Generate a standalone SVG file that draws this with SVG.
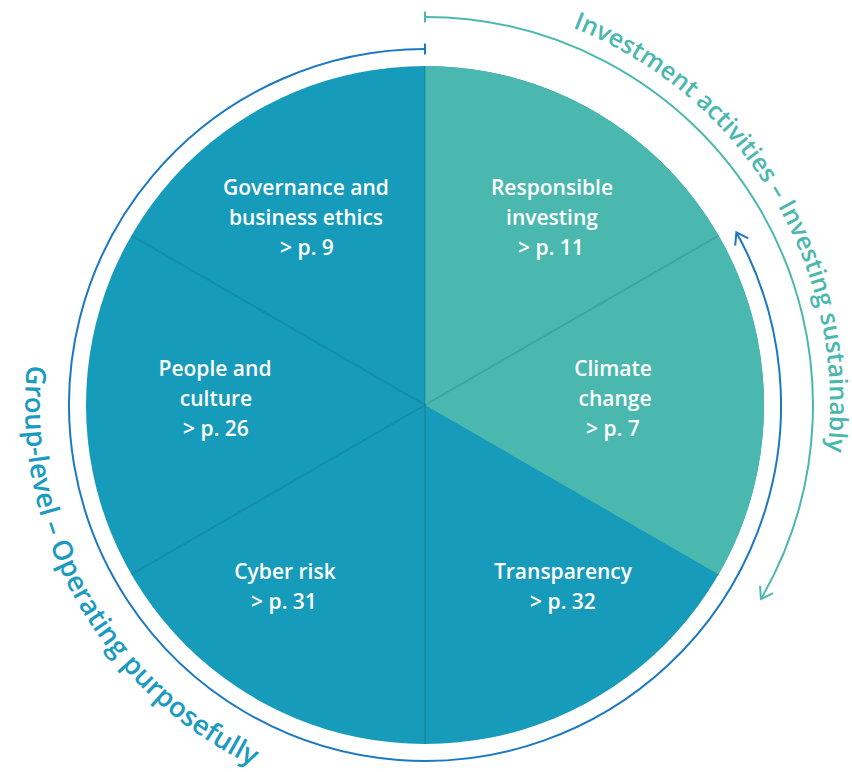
<svg xmlns="http://www.w3.org/2000/svg" width="852" height="772" viewBox="0 0 852 772">
  <style>
    .label { font-family: "Open Sans", "Liberation Sans", sans-serif; font-weight: 600; font-size: 21px; fill: #ffffff; text-anchor: middle; }
    .divider { stroke: #0a4f66; stroke-opacity: 0.18; stroke-width: 2; fill: none; }
    .ring-label { font-family: "Open Sans", "Liberation Sans", sans-serif; font-weight: 600; }
  </style>
  <defs>
    <marker id="tick-blue" markerUnits="userSpaceOnUse" markerWidth="4" markerHeight="14" viewBox="-2 -7 4 14" refX="0" refY="0" orient="auto">
      <path d="M0 -5.5 L0 5.5" stroke="#1b78c2" stroke-width="2" fill="none"/>
    </marker>
    <marker id="tick-teal" markerUnits="userSpaceOnUse" markerWidth="4" markerHeight="14" viewBox="-2 -7 4 14" refX="0" refY="0" orient="auto">
      <path d="M0 -5.5 L0 5.5" stroke="#4bb8b0" stroke-width="2" fill="none"/>
    </marker>
    <marker id="arrow-blue" markerUnits="userSpaceOnUse" markerWidth="18" markerHeight="18" viewBox="-14 -9 18 18" refX="0" refY="0" orient="auto">
      <path d="M-11 -7.5 L0 0 L-11 7.5" stroke="#1b78c2" stroke-width="2" fill="none"/>
    </marker>
    <marker id="arrow-teal" markerUnits="userSpaceOnUse" markerWidth="18" markerHeight="18" viewBox="-14 -9 18 18" refX="0" refY="0" orient="auto">
      <path d="M-11 -7.5 L0 0 L-11 7.5" stroke="#4bb8b0" stroke-width="2" fill="none"/>
    </marker>
    <!-- baseline circles for the curved captions -->
    <path id="ring-outer-cw" d="M425 0 A405 405 0 1 1 425 810 A405 405 0 0 1 425 0"/>
    <path id="ring-left-ccw" d="M425 5 A400 400 0 1 0 425 805 A400 400 0 0 0 425 5"/>
  </defs>

  <!-- pie -->
  <g id="pie">
    <circle cx="425" cy="405" r="339" fill="#169bbb"/>
    <path d="M425 405 L425 66 A339 339 0 0 1 718.6 574.5 Z" fill="#4bb8b0"/>
  </g>

  <g id="dividers">
    <line class="divider" x1="425" y1="405" x2="425" y2="66"/>
    <line class="divider" x1="425" y1="405" x2="425" y2="744"/>
    <line class="divider" x1="425" y1="405" x2="718.6" y2="235.5"/>
    <line class="divider" x1="425" y1="405" x2="131.4" y2="235.5"/>
    <line class="divider" x1="425" y1="405" x2="131.4" y2="574.5"/>
  </g>

  <g id="governance">
    <text class="label" x="306" y="195">Governance and</text>
    <text class="label" x="306" y="225">business ethics</text>
    <text class="label" x="307" y="255">&gt; p. 9</text>
  </g>
  <g id="responsible-investing">
    <text class="label" x="552" y="195">Responsible</text>
    <text class="label" x="552" y="225">investing</text>
    <text class="label" x="551" y="255">&gt; p. 11</text>
  </g>
  <g id="people-culture">
    <text class="label" x="215" y="376">People and</text>
    <text class="label" x="216" y="406">culture</text>
    <text class="label" x="216" y="436">&gt; p. 26</text>
  </g>
  <g id="climate-change">
    <text class="label" x="613" y="376">Climate</text>
    <text class="label" x="615" y="406">change</text>
    <text class="label" x="613" y="436">&gt; p. 7</text>
  </g>
  <g id="cyber-risk">
    <text class="label" x="285" y="579">Cyber risk</text>
    <text class="label" x="284" y="609">&gt; p. 31</text>
  </g>
  <g id="transparency">
    <text class="label" x="563" y="579">Transparency</text>
    <text class="label" x="563" y="609">&gt; p. 32</text>
  </g>

  <!-- scope arcs -->
  <g id="connectors">
    <path id="group-arc" d="M425 49 A356 356 0 1 0 736.4 232.4" fill="none" stroke="#1b78c2" stroke-width="2" marker-start="url(#tick-blue)" marker-end="url(#arrow-blue)"/>
    <path id="investment-arc" d="M425 17 A388 388 0 0 1 761 599" fill="none" stroke="#4bb8b0" stroke-width="2" marker-start="url(#tick-teal)" marker-end="url(#arrow-teal)"/>
  </g>

  <g id="investment-caption">
    <text class="ring-label" font-size="25" fill="#4bb8b0"><textPath href="#ring-outer-cw" startOffset="151">Investment activities – Investing sustainably</textPath></text>
  </g>
  <g id="group-caption">
    <text class="ring-label" font-size="27.5" fill="#1a9bbf"><textPath href="#ring-left-ccw" startOffset="588">Group-level – Operating purposefully</textPath></text>
  </g>
</svg>
